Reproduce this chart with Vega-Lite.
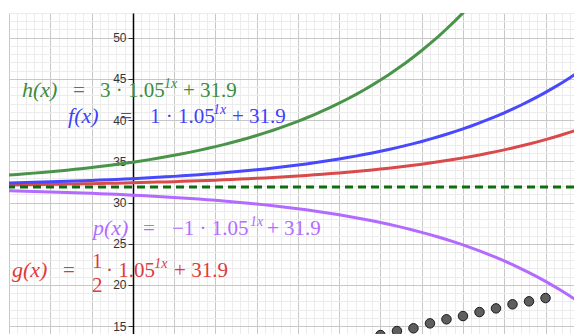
{
  "$schema": "https://vega.github.io/schema/vega-lite/v6.json",
  "width": 565,
  "height": 321,
  "autosize": {"type": "none"},
  "padding": {"left": 9, "top": 13, "right": 0, "bottom": 0},
  "background": "white",
  "config": {"view": {"stroke": null}},
  "datasets": {
    "curves": [
      {"x": -15, "h": 33.343, "f": 32.381, "g": 32.141, "p": 31.419},
      {"x": -14, "h": 33.415, "f": 32.405, "g": 32.153, "p": 31.395},
      {"x": -13, "h": 33.491, "f": 32.430, "g": 32.165, "p": 31.370},
      {"x": -12, "h": 33.571, "f": 32.457, "g": 32.178, "p": 31.343},
      {"x": -11, "h": 33.654, "f": 32.485, "g": 32.192, "p": 31.315},
      {"x": -10, "h": 33.742, "f": 32.514, "g": 32.207, "p": 31.286},
      {"x": -9, "h": 33.834, "f": 32.545, "g": 32.222, "p": 31.255},
      {"x": -8, "h": 33.931, "f": 32.577, "g": 32.238, "p": 31.223},
      {"x": -7, "h": 34.032, "f": 32.611, "g": 32.255, "p": 31.189},
      {"x": -6, "h": 34.139, "f": 32.646, "g": 32.273, "p": 31.154},
      {"x": -5, "h": 34.251, "f": 32.684, "g": 32.292, "p": 31.116},
      {"x": -4, "h": 34.368, "f": 32.723, "g": 32.311, "p": 31.077},
      {"x": -3, "h": 34.492, "f": 32.764, "g": 32.332, "p": 31.036},
      {"x": -2, "h": 34.621, "f": 32.807, "g": 32.354, "p": 30.993},
      {"x": -1, "h": 34.757, "f": 32.852, "g": 32.376, "p": 30.948},
      {"x": 0, "h": 34.900, "f": 32.900, "g": 32.400, "p": 30.900},
      {"x": 1, "h": 35.050, "f": 32.950, "g": 32.425, "p": 30.850},
      {"x": 2, "h": 35.208, "f": 33.003, "g": 32.451, "p": 30.798},
      {"x": 3, "h": 35.373, "f": 33.058, "g": 32.479, "p": 30.742},
      {"x": 4, "h": 35.547, "f": 33.116, "g": 32.508, "p": 30.684},
      {"x": 5, "h": 35.729, "f": 33.176, "g": 32.538, "p": 30.624},
      {"x": 6, "h": 35.920, "f": 33.240, "g": 32.570, "p": 30.560},
      {"x": 7, "h": 36.121, "f": 33.307, "g": 32.604, "p": 30.493},
      {"x": 8, "h": 36.332, "f": 33.377, "g": 32.639, "p": 30.423},
      {"x": 9, "h": 36.554, "f": 33.451, "g": 32.676, "p": 30.349},
      {"x": 10, "h": 36.787, "f": 33.529, "g": 32.714, "p": 30.271},
      {"x": 11, "h": 37.031, "f": 33.610, "g": 32.755, "p": 30.190},
      {"x": 12, "h": 37.288, "f": 33.696, "g": 32.798, "p": 30.104},
      {"x": 13, "h": 37.557, "f": 33.786, "g": 32.843, "p": 30.014},
      {"x": 14, "h": 37.840, "f": 33.880, "g": 32.890, "p": 29.920},
      {"x": 15, "h": 38.137, "f": 33.979, "g": 32.939, "p": 29.821},
      {"x": 16, "h": 38.449, "f": 34.083, "g": 32.991, "p": 29.717},
      {"x": 17, "h": 38.776, "f": 34.192, "g": 33.046, "p": 29.608},
      {"x": 18, "h": 39.120, "f": 34.307, "g": 33.103, "p": 29.493},
      {"x": 19, "h": 39.481, "f": 34.427, "g": 33.163, "p": 29.373},
      {"x": 20, "h": 39.860, "f": 34.553, "g": 33.227, "p": 29.247},
      {"x": 21, "h": 40.258, "f": 34.686, "g": 33.293, "p": 29.114},
      {"x": 22, "h": 40.676, "f": 34.825, "g": 33.363, "p": 28.975},
      {"x": 23, "h": 41.115, "f": 34.972, "g": 33.436, "p": 28.828},
      {"x": 24, "h": 41.575, "f": 35.125, "g": 33.513, "p": 28.675},
      {"x": 25, "h": 42.059, "f": 35.286, "g": 33.593, "p": 28.514},
      {"x": 26, "h": 42.567, "f": 35.456, "g": 33.678, "p": 28.344},
      {"x": 27, "h": 43.100, "f": 35.633, "g": 33.767, "p": 28.167},
      {"x": 28, "h": 43.660, "f": 35.820, "g": 33.860, "p": 27.980},
      {"x": 29, "h": 44.248, "f": 36.016, "g": 33.958, "p": 27.784},
      {"x": 30, "h": 44.866, "f": 36.222, "g": 34.061, "p": 27.578},
      {"x": 31, "h": 45.514, "f": 36.438, "g": 34.169, "p": 27.362},
      {"x": 32, "h": 46.195, "f": 36.665, "g": 34.282, "p": 27.135},
      {"x": 33, "h": 46.910, "f": 36.903, "g": 34.402, "p": 26.897},
      {"x": 34, "h": 47.660, "f": 37.153, "g": 34.527, "p": 26.647},
      {"x": 35, "h": 48.448, "f": 37.416, "g": 34.658, "p": 26.384},
      {"x": 36, "h": 49.275, "f": 37.692, "g": 34.796, "p": 26.108},
      {"x": 37, "h": 50.144, "f": 37.981, "g": 34.941, "p": 25.819},
      {"x": 38, "h": 51.056, "f": 38.285, "g": 35.093, "p": 25.515},
      {"x": 39, "h": 52.014, "f": 38.605, "g": 35.252, "p": 25.195},
      {"x": 40, "h": 53.020, "f": 38.940, "g": 35.420, "p": 24.860},
      {"x": 41, "h": 54.076, "f": 39.292, "g": 35.596, "p": 24.508},
      {"x": 42, "h": 55.185, "f": 39.662, "g": 35.781, "p": 24.138},
      {"x": 43, "h": 56.349, "f": 40.050, "g": 35.975, "p": 23.750},
      {"x": 44, "h": 57.571, "f": 40.457, "g": 36.179, "p": 23.343},
      {"x": 45, "h": 58.855, "f": 40.885, "g": 36.393, "p": 22.915},
      {"x": 46, "h": 60.203, "f": 41.334, "g": 36.617, "p": 22.466},
      {"x": 47, "h": 61.618, "f": 41.806, "g": 36.853, "p": 21.994},
      {"x": 48, "h": 63.104, "f": 42.301, "g": 37.101, "p": 21.499},
      {"x": 49, "h": 64.664, "f": 42.821, "g": 37.361, "p": 20.979},
      {"x": 50, "h": 66.302, "f": 43.367, "g": 37.634, "p": 20.433},
      {"x": 51, "h": 68.022, "f": 43.941, "g": 37.920, "p": 19.859},
      {"x": 52, "h": 69.828, "f": 44.543, "g": 38.221, "p": 19.257},
      {"x": 53, "h": 71.725, "f": 45.175, "g": 38.537, "p": 18.625},
      {"x": 54, "h": 73.716, "f": 45.839, "g": 38.869, "p": 17.961}
    ],
    "points": [
      {"x": 30, "y": 13.92},
      {"x": 32, "y": 14.41},
      {"x": 34, "y": 14.74},
      {"x": 36, "y": 15.34},
      {"x": 38, "y": 15.83},
      {"x": 40, "y": 16.23},
      {"x": 42, "y": 16.71},
      {"x": 44, "y": 17.16},
      {"x": 46, "y": 17.65},
      {"x": 48, "y": 18.01},
      {"x": 50, "y": 18.41}
    ],
    "italicLabels": [
      {"fn": "h", "x": -13.43, "y": 42.81, "text": "h(x)"},
      {"fn": "f", "x": -7.85, "y": 39.65, "text": "f(x)"},
      {"fn": "p", "x": -4.82, "y": 26.06, "text": "p(x)"},
      {"fn": "g", "x": -14.64, "y": 20.96, "text": "g(x)"}
    ],
    "uprightLabels": [
      {"fn": "h", "x": -7.25, "y": 42.81, "text": "="},
      {"fn": "h", "x": -3.98, "y": 42.81, "text": "3 · 1.05"},
      {"fn": "h", "x": 6.08, "y": 42.81, "text": "+ 31.9"},
      {"fn": "f", "x": -1.55, "y": 39.65, "text": "="},
      {"fn": "f", "x": 2.08, "y": 39.65, "text": "1 · 1.05"},
      {"fn": "f", "x": 12.02, "y": 39.65, "text": "+ 31.9"},
      {"fn": "p", "x": 1.23, "y": 26.06, "text": "="},
      {"fn": "p", "x": 4.75, "y": 26.06, "text": "−1 · 1.05"},
      {"fn": "p", "x": 16.26, "y": 26.06, "text": "+ 31.9"},
      {"fn": "g", "x": -8.46, "y": 20.96, "text": "="},
      {"fn": "g", "x": -4.94, "y": 22.05, "text": "1"},
      {"fn": "g", "x": -4.94, "y": 19.14, "text": "2"},
      {"fn": "g", "x": -3.25, "y": 20.96, "text": "· 1.05"},
      {"fn": "g", "x": 5.0, "y": 20.96, "text": "+ 31.9"}
    ],
    "superscripts": [
      {"fn": "h", "x": 3.78, "y": 43.96, "text": "1x"},
      {"fn": "f", "x": 9.72, "y": 40.80, "text": "1x"},
      {"fn": "p", "x": 14.20, "y": 27.21, "text": "1x"},
      {"fn": "g", "x": 2.6, "y": 22.11, "text": "1x"}
    ]
  },
  "resolve": {"axis": {"x": "independent", "y": "independent"}},
  "layer": [
    {
      "data": {"name": "curves"},
      "mark": {"type": "line", "color": "#4a944a", "strokeWidth": 3, "clip": true},
      "encoding": {
        "x": {"field": "x", "type": "quantitative",
          "scale": {"domain": [-15, 53.45], "nice": false, "zero": false},
          "axis": {"orient": "bottom", "values": [-15,-14,-13,-12,-11,-10,-9,-8,-7,-6,-5,-4,-3,-2,-1,0,1,2,3,4,5,6,7,8,9,10,11,12,13,14,15,16,17,18,19,20,21,22,23,24,25,26,27,28,29,30,31,32,33,34,35,36,37,38,39,40,41,42,43,44,45,46,47,48,49,50,51,52,53],
            "grid": true, "gridColor": "#ececec", "gridWidth": 1, "labels": false, "ticks": false, "domain": false, "title": null}},
        "y": {"field": "h", "type": "quantitative",
          "scale": {"domain": [14.05, 53], "nice": false, "zero": false},
          "axis": {"orient": "left", "values": [15,16,17,18,19,20,21,22,23,24,25,26,27,28,29,30,31,32,33,34,35,36,37,38,39,40,41,42,43,44,45,46,47,48,49,50,51,52,53],
            "grid": true, "gridColor": "#ececec", "gridWidth": 1, "labels": false, "ticks": false, "domain": false, "title": null}}
      }
    },
    {
      "data": {"name": "curves"},
      "mark": {"type": "line", "color": "#d94a4a", "strokeWidth": 3, "clip": true},
      "encoding": {
        "x": {"field": "x", "type": "quantitative",
          "axis": {"orient": "bottom", "values": [-15,-10,-5,0,5,10,15,20,25,30,35,40,45,50],
            "grid": true, "gridColor": "#c8c8c8", "gridWidth": 1, "labels": false, "ticks": false, "domain": false, "title": null}},
        "y": {"field": "g", "type": "quantitative",
          "axis": {"orient": "left", "values": [15,20,25,30,35,40,45,50],
            "grid": true, "gridColor": "#c8c8c8", "gridWidth": 1, "labels": false, "ticks": false, "domain": false, "title": null}}
      }
    },
    {
      "data": {"name": "curves"},
      "mark": {"type": "line", "color": "#4848ff", "strokeWidth": 3, "clip": true},
      "encoding": {
        "x": {"field": "x", "type": "quantitative", "axis": null},
        "y": {"field": "f", "type": "quantitative",
          "axis": {"orient": "left", "offset": -124, "values": [15,20,25,30,35,40,45,50],
            "grid": false, "labels": true, "labelFont": "Liberation Sans", "labelFontSize": 12, "labelColor": "#333333",
            "labelPadding": 2, "ticks": true, "tickSize": 5, "tickColor": "#333333", "tickWidth": 1,
            "domain": true, "domainColor": "#000000", "domainWidth": 1.5, "title": null}}
      }
    },
    {
      "data": {"name": "curves"},
      "mark": {"type": "line", "color": "#b36bff", "strokeWidth": 3, "clip": true},
      "encoding": {
        "x": {"field": "x", "type": "quantitative", "axis": null},
        "y": {"field": "p", "type": "quantitative", "axis": null}
      }
    },
    {
      "data": {"values": [{"asymptote": 31.9}]},
      "mark": {"type": "rule", "color": "#0e6e0e", "strokeWidth": 3, "strokeDash": [8, 5]},
      "encoding": {
        "y": {"field": "asymptote", "type": "quantitative", "axis": null}
      }
    },
    {
      "data": {"name": "points"},
      "mark": {"type": "point", "shape": "circle", "filled": true, "size": 90, "fill": "#5e5e5e", "stroke": "#1a1a1a", "strokeWidth": 1, "opacity": 1, "clip": true},
      "encoding": {
        "x": {"field": "x", "type": "quantitative", "axis": null},
        "y": {"field": "y", "type": "quantitative", "axis": null}
      }
    },
    {
      "data": {"name": "italicLabels"},
      "mark": {"type": "text", "align": "left", "baseline": "alphabetic", "font": "Liberation Serif", "fontStyle": "italic", "fontSize": 22},
      "encoding": {
        "x": {"field": "x", "type": "quantitative", "axis": null},
        "y": {"field": "y", "type": "quantitative", "axis": null},
        "text": {"field": "text"},
        "color": {"field": "fn", "type": "nominal", "legend": null,
          "scale": {"domain": ["h", "f", "g", "p"], "range": ["#3c8c3c", "#4040ff", "#e03a3a", "#b36bff"]}}
      }
    },
    {
      "data": {"name": "uprightLabels"},
      "mark": {"type": "text", "align": "left", "baseline": "alphabetic", "font": "Liberation Serif", "fontSize": 21},
      "encoding": {
        "x": {"field": "x", "type": "quantitative", "axis": null},
        "y": {"field": "y", "type": "quantitative", "axis": null},
        "text": {"field": "text"},
        "color": {"field": "fn", "type": "nominal", "legend": null}
      }
    },
    {
      "data": {"name": "superscripts"},
      "mark": {"type": "text", "align": "left", "baseline": "alphabetic", "font": "Liberation Serif", "fontStyle": "italic", "fontSize": 14},
      "encoding": {
        "x": {"field": "x", "type": "quantitative", "axis": null},
        "y": {"field": "y", "type": "quantitative", "axis": null},
        "text": {"field": "text"},
        "color": {"field": "fn", "type": "nominal", "legend": null}
      }
    }
  ]
}
